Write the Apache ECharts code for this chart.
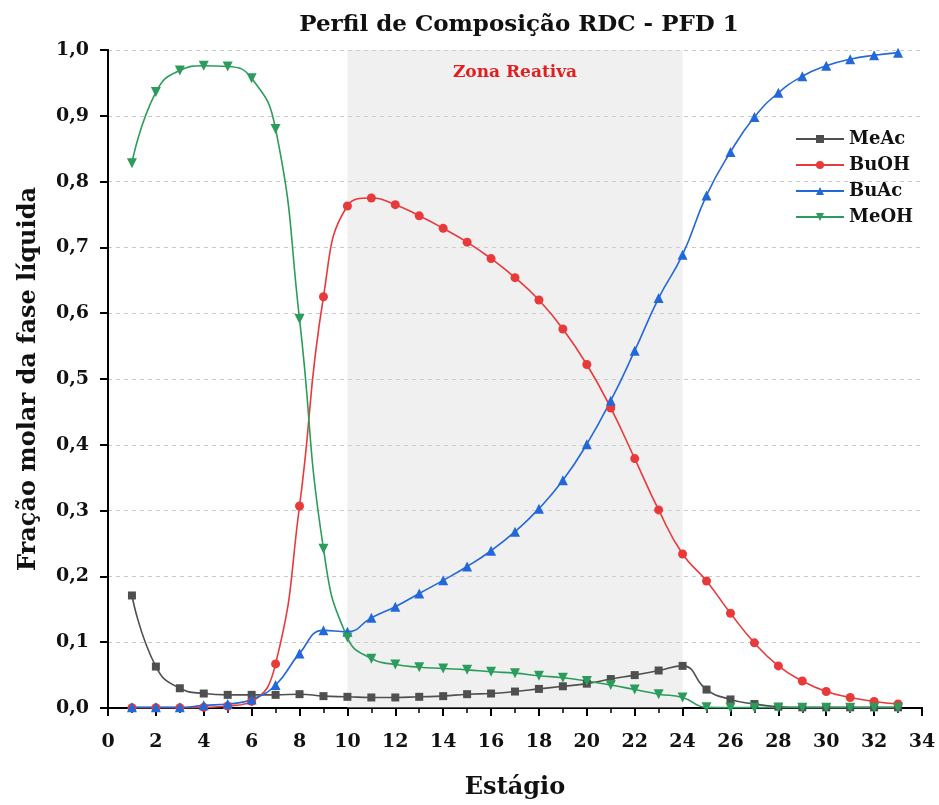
<!DOCTYPE html>
<html><head><meta charset="utf-8">
<script src="https://cdn.jsdelivr.net/npm/echarts@6/dist/echarts.min.js"></script>
<style>html,body{margin:0;padding:0;background:#fff}#c{width:939px;height:805px}</style>
</head><body><div id="c"></div>
<script>
const stages = [1,2,3,4,5,6,7,8,9,10,11,12,13,14,15,16,17,18,19,20,21,22,23,24,25,26,27,28,29,30,31,32,33];
const meAc = [0.171,0.063,0.030,0.022,0.020,0.020,0.020,0.021,0.018,0.017,0.016,0.016,0.017,0.018,0.021,0.022,0.025,0.029,0.033,0.037,0.044,0.050,0.057,0.064,0.028,0.013,0.006,0.002,0.001,0.001,0.001,0.001,0.001];
const buOH = [0.0005,0.0005,0.0005,0.001,0.003,0.010,0.067,0.307,0.625,0.763,0.775,0.765,0.748,0.729,0.708,0.683,0.654,0.620,0.576,0.522,0.456,0.379,0.301,0.234,0.193,0.144,0.099,0.064,0.041,0.025,0.016,0.010,0.006];
const buAc = [0.001,0.001,0.001,0.004,0.006,0.013,0.035,0.083,0.118,0.116,0.137,0.154,0.174,0.194,0.215,0.239,0.268,0.303,0.346,0.401,0.467,0.543,0.623,0.689,0.779,0.845,0.898,0.935,0.960,0.976,0.986,0.992,0.996];
const meOH = [0.828,0.936,0.969,0.976,0.975,0.957,0.880,0.591,0.242,0.107,0.075,0.066,0.062,0.060,0.058,0.055,0.053,0.049,0.046,0.041,0.035,0.028,0.021,0.016,0.001,0.0005,0.0005,0.0005,0.0005,0.0005,0.0005,0.0005,0.0005];
const xTicks = [0,2,4,6,8,10,12,14,16,18,20,22,24,26,28,30,32,34];
const yTicks = [0,0.1,0.2,0.3,0.4,0.5,0.6,0.7,0.8,0.9,1.0];
const reactiveZone = [10, 24];
const seriesNames = ['MeAc','BuOH','BuAc','MeOH'];

const F = 'DejaVu Serif';
const colors = ['#4f4f4f','#e8393b','#2368d8','#2c9c5c'];
function pairs(arr){ return stages.map((s,i)=>[s,arr[i]]); }
const chart = echarts.init(document.getElementById('c'));
const mk = (name, data, color, symbol, rot, extra) => Object.assign({
  name, type:'line', data: pairs(data), smooth:0.5, symbol, symbolSize: symbol==='circle'?9:10,
  symbolRotate: rot, color, lineStyle:{width:1.6, color}, itemStyle:{color}, z:3
}, extra||{});
chart.setOption({
  animation:false,
  backgroundColor:'#fff',
  title:{text:'Perfil de Composição RDC - PFD 1', left:514, textAlign:'center', top:9,
    textStyle:{fontFamily:F, fontWeight:'bold', fontSize:23, color:'#111'}},
  legend:{orient:'vertical', left:790, top:125, itemGap:8, itemWidth:48, itemHeight:10,
    data: seriesNames,
    textStyle:{fontFamily:F, fontWeight:'bold', fontSize:18, color:'#111'}},
  grid:{left:108, right:17, top:50, bottom:97},
  xAxis:[{type:'value', min:0, max:34, interval:2,
    name:'Estágio', nameLocation:'middle', nameGap:68,
    nameTextStyle:{fontFamily:F, fontWeight:'bold', fontSize:24, color:'#111'},
    axisLine:{lineStyle:{color:'#000', width:2}},
    axisTick:{show:true, length:8, lineStyle:{color:'#000', width:2}},
    minorTick:{show:true, splitNumber:2, length:5, lineStyle:{color:'#000', width:1.5}},
    axisLabel:{fontFamily:F, fontWeight:'bold', fontSize:19, color:'#111', margin:25},
    splitLine:{show:false}},
   {type:'value', position:'top', min:0, max:34, axisLine:{show:true, lineStyle:{color:'#000', width:2}},
    axisTick:{show:false}, axisLabel:{show:false}, splitLine:{show:false}}],
  yAxis:[{type:'value', min:0, max:1, interval:0.1,
    name:'Fração molar da fase líquida', nameLocation:'middle', nameGap:67,
    nameTextStyle:{fontFamily:F, fontWeight:'bold', fontSize:24, color:'#111'},
    axisLine:{show:true, lineStyle:{color:'#000', width:2}},
    axisTick:{show:true, length:8, lineStyle:{color:'#000', width:2}},
    axisLabel:{fontFamily:F, fontWeight:'bold', fontSize:19, color:'#111', margin:19,
      formatter:v=>v.toFixed(1).replace('.',',')},
    splitLine:{show:true, lineStyle:{type:[4,4], color:'#c8c8c8', width:1}}},
   {type:'value', position:'right', min:0, max:1, axisLine:{show:true, lineStyle:{color:'#000', width:2}},
    axisTick:{show:false}, axisLabel:{show:false}, splitLine:{show:false}}],
  series:[
    mk('MeAc', meAc, colors[0], 'rect', 0, {symbolSize:8, markArea:{silent:true,
      itemStyle:{color:'rgba(215,215,215,0.38)'},
      label:{show:true, position:'insideTop', distance:14, color:'#e02020', fontFamily:F, fontWeight:'bold', fontSize:17},
      data:[[{name:'Zona Reativa', xAxis:reactiveZone[0]},{xAxis:reactiveZone[1]}]]}}),
    mk('BuOH', buOH, colors[1], 'circle', 0),
    mk('BuAc', buAc, colors[2], 'triangle', 0),
    mk('MeOH', meOH, colors[3], 'triangle', 180)
  ]
});
</script></body></html>
